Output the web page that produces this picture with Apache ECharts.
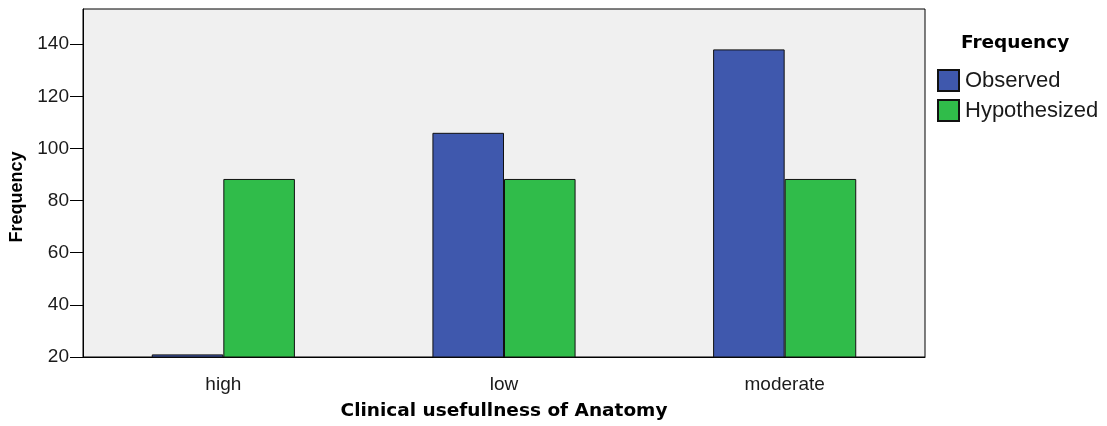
<!DOCTYPE html>
<html>
<head>
<meta charset="utf-8">
<script src="https://cdn.jsdelivr.net/npm/echarts@6/dist/echarts.min.js"></script>
<style>html,body{margin:0;padding:0;background:#fff}#c{width:1107px;height:426px}</style>
</head>
<body>
<div id="c"></div>
<script>
const categories = ['high', 'low', 'moderate'];
const observed = [21, 106, 138];
const hypothesized = [88.3, 88.3, 88.3];
const yTicks = [20, 40, 60, 80, 100, 120, 140];
const yMin = 20, yMax = 153.5;

const chart = echarts.init(document.getElementById('c'), null, {renderer: 'canvas'});
chart.setOption({
  animation: false,
  backgroundColor: '#ffffff',
  title: {
    text: 'Frequency', left: 961, top: 34, padding: 0,
    textStyle: {fontFamily: 'DejaVu Sans', fontWeight: 'bold', fontSize: 18.5, color: '#000'}
  },
  legend: {
    orient: 'vertical', left: 937, top: 69, padding: 0,
    itemWidth: 21, itemHeight: 21, itemGap: 7,
    icon: 'rect',
    textStyle: {fontFamily: 'Liberation Sans', fontSize: 22, color: '#1a1a1a', padding: [0, 0, 0, 1]},
    data: ['Observed', 'Hypothesized']
  },
  grid: {
    left: 83, right: 182, top: 9, bottom: 68,
    show: true, backgroundColor: '#f0f0f0', borderColor: '#000', borderWidth: 1
  },
  xAxis: {
    type: 'category', data: categories,
    name: 'Clinical usefullness of Anatomy', nameLocation: 'middle', nameGap: 45,
    nameTextStyle: {fontFamily: 'DejaVu Sans', fontWeight: 'bold', fontSize: 18.5, color: '#000'},
    axisLine: {lineStyle: {color: '#000', width: 1}},
    axisTick: {alignWithLabel: true, length: 14, lineStyle: {color: '#000'}},
    axisLabel: {fontFamily: 'Liberation Sans', fontSize: 19, color: '#1a1a1a', margin: 18}
  },
  yAxis: {
    type: 'value', min: yMin, max: yMax, interval: 20,
    name: 'Frequency', nameLocation: 'middle', nameGap: 51,
    nameTextStyle: {fontFamily: 'Liberation Sans', fontWeight: 'bold', fontSize: 18, color: '#000', padding: [0, 28, 0, 0]},
    axisLine: {show: true, lineStyle: {color: '#000', width: 1}},
    axisTick: {show: true, length: 13, lineStyle: {color: '#000'}, customValues: yTicks},
    axisLabel: {fontFamily: 'Liberation Sans', fontSize: 19, color: '#1a1a1a', margin: 14, customValues: yTicks},
    splitLine: {show: false}
  },
  series: [
    {
      name: 'Observed', type: 'bar', data: observed,
      barGap: '0%', barCategoryGap: '49%',
      itemStyle: {color: '#3f58ad', borderColor: '#111', borderWidth: 1}
    },
    {
      name: 'Hypothesized', type: 'bar', data: hypothesized,
      barGap: '0%', barCategoryGap: '49%',
      itemStyle: {color: '#30bc4a', borderColor: '#111', borderWidth: 1}
    }
  ]
});
</script>
</body>
</html>
